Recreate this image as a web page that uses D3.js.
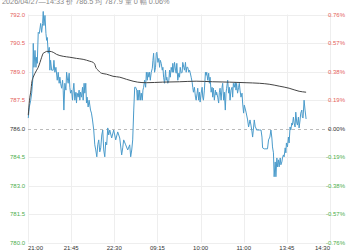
<!DOCTYPE html>
<html><head><meta charset="utf-8">
<script src="https://cdn.jsdelivr.net/npm/d3@7"></script>
<style>
html,body{margin:0;padding:0;background:#fff;overflow:hidden}
svg{display:block;font-family:"Liberation Sans",Arial,sans-serif}
</style></head>
<body>
<svg id="c" width="350" height="250"></svg>
<script>
const titleText = "2026/04/27\u201414:33 价 786.5 均 787.9 量 0 幅 0.06%";
const xTickLabels = ["21:00","21:45","22:30","09:15","10:00","11:00","13:45","14:30"];
const totalMinutes = 345;
const preClose = 786.0;
const yTicks = [780.0,781.5,783.0,784.5,786.0,787.5,789.0,790.5,792.0];
const pctLabels = ["-0.76%","-0.57%","-0.38%","-0.19%","0.00%","0.19%","0.38%","0.57%","0.76%"];

const priceMinute = [0.3,1.5,3.1,4.2,5.4,6.0,6.8,8.0,9.1,9.9,10.6,11.7,12.9,14.5,15.6,16.7,17.4,18.2,19.4,20.5,21.3,22.0,23.1,24.3,25.0,25.8,27.0,28.8,29.6,30.7,31.9,33.4,34.5,35.6,36.4,37.2,38.4,39.5,40.2,41.0,42.1,43.3,44.1,45.2,45.9,47.0,47.8,48.6,49.8,50.9,51.6,52.4,53.5,54.7,55.4,56.1,57.3,58.4,59.2,60.0,61.1,62.3,63.0,64.1,64.9,66.0,66.8,67.5,68.7,69.8,71.4,72.5,73.7,75.1,76.3,77.4,78.6,79.7,80.8,82.0,83.1,84.3,85.4,86.5,87.7,88.8,89.9,91.1,92.2,93.4,95.6,97.9,100.2,102.5,104.8,107.0,108.2,109.3,111.6,113.9,116.2,117.3,118.5,119.6,
120.8,121.9,123.0,124.2,124.9,125.6,126.7,127.5,128.7,129.4,130.6,131.3,132.1,133.2,134.4,135.2,136.3,137.0,138.1,138.9,139.7,140.8,142.0,142.7,143.5,144.6,145.7,146.5,147.2,148.4,149.5,150.3,151.1,152.2,153.4,154.1,154.9,156.0,157.1,157.9,158.6,159.7,160.9,161.7,162.5,163.6,164.8,165.4,166.2,167.4,168.5,169.3,170.0,171.1,172.3,173.1,173.9,175.0,176.1,176.8,178.0,178.8,179.9,180.7,181.4,182.5,183.7,184.5,185.2,186.4,187.5,188.2,189.0,190.1,191.3,192.1,193.2,193.9,195.0,195.8,196.6,197.8,198.9,199.6,200.4,201.5,202.7,203.5,204.2,205.3,206.4,207.2,208.0,209.2,210.3,211.0,211.8,212.9,214.1,214.9,215.5,216.7,217.8,218.6,219.4,220.6,221.7,222.4,223.5,224.3,225.4,226.2,226.9,228.1,229.2,230.0,230.8,231.9,233.1,233.8,234.6,235.7,236.8,237.6,238.3,239.4,240.6,241.4,242.2,243.3,244.5,245.2,246.3,247.1,249.1,250.9,252.0,253.6,254.7,255.9,256.6,257.4,258.5,259.6,260.4,261.1,262.3,264.2,266.2,267.3,268.0,269.9,271.8,273.6,274.8,276.3,277.5,278.6,279.3,280.4,281.2,282.4,283.2,284.3,285.0,286.1,286.9,288.1,288.9,290.0,290.7,291.8,292.6,293.8,294.6,295.2,296.4,297.5,298.3,299.4,300.2,301.4,302.1,303.2,304.0,305.1,305.9,307.1,307.8,308.9,309.7,310.8,311.6,312.8,313.4,314.2,315.4,316.5,317.7];

const priceValue = [786.55,787.13,787.49,787.86,788.54,790.48,789.22,790.11,789.22,789.75,789.43,791.06,791.00,791.53,791.06,791.53,792.16,791.42,791.95,791.00,790.64,790.79,789.96,790.27,789.07,789.59,789.07,789.07,789.59,788.96,789.22,788.54,788.96,788.38,788.70,788.38,788.12,788.54,788.02,786.97,788.38,788.02,788.96,788.54,788.38,788.91,788.17,787.86,788.02,787.49,788.02,788.38,787.49,787.91,787.34,787.86,787.65,788.02,787.49,787.91,787.65,788.17,787.49,788.38,787.86,788.38,787.34,787.65,787.13,787.49,786.97,786.81,786.45,785.92,785.14,784.87,784.51,785.14,785.40,784.77,784.98,785.66,785.92,784.87,784.51,785.29,785.14,786.03,785.66,785.92,785.50,785.92,785.40,785.82,785.50,784.61,784.98,785.40,785.14,784.87,785.14,784.51,784.87,785.40,
786.97,788.17,788.17,788.02,787.49,788.02,787.49,788.02,787.49,787.86,787.49,788.02,788.17,788.54,788.17,788.96,788.54,788.96,788.70,788.96,788.54,788.96,789.17,789.59,789.96,788.96,789.22,789.96,790.01,789.48,789.69,789.22,789.59,789.43,789.07,789.22,788.70,788.38,789.07,788.54,788.70,788.38,788.54,789.07,788.70,789.22,788.96,789.43,788.96,789.48,789.07,788.91,789.43,788.54,788.91,788.70,789.22,788.91,788.96,789.48,789.22,789.07,789.48,788.96,789.22,789.22,788.96,789.07,788.96,788.70,788.44,788.17,787.91,788.17,787.65,787.49,787.86,788.12,787.49,787.91,787.39,787.86,788.17,787.65,787.49,788.02,788.96,788.80,788.96,788.54,788.91,788.38,788.70,787.91,788.17,787.65,788.12,787.49,788.02,787.76,787.91,787.65,787.34,787.91,788.12,787.49,788.17,788.38,787.49,787.91,786.97,787.86,788.12,788.54,787.86,788.17,787.49,788.02,788.17,787.65,788.38,788.17,788.44,788.02,788.38,787.86,788.17,788.38,788.02,787.65,787.86,787.34,786.81,787.23,786.86,786.45,786.08,786.45,786.18,785.82,785.55,785.92,786.45,786.08,786.03,785.92,785.92,785.92,785.92,785.55,784.98,784.93,784.93,784.93,785.40,785.55,785.92,785.50,785.03,784.72,783.46,784.24,783.46,784.45,783.98,784.35,783.98,784.45,784.09,784.24,784.45,784.61,784.51,784.98,784.72,785.24,785.03,785.55,785.24,786.08,785.92,786.29,786.18,786.60,786.29,786.08,786.86,786.29,786.18,786.60,786.03,786.45,786.81,786.97,786.60,786.55,787.49,786.97,786.50];

const avgMinute = [0.3,1.7,3.4,4.2,6.0,8.0,9.9,11.7,13.7,15.6,17.4,19.4,21.3,25.0,28.8,32.7,40.2,47.8,55.4,63.0,70.6,74.4,76.3,77.4,80.0,83.9,89.6,97.1,104.8,112.4,120.0,125.2,135.2,153.7,173.1,192.1,211.0,230.0,249.1,264.2,275.5,286.9,298.3,309.7,317.7];
const avgValue = [786.70,787.49,788.02,788.38,788.70,788.91,789.07,789.22,789.48,789.75,789.96,790.01,790.06,790.06,790.01,789.90,789.80,789.75,789.69,789.64,789.54,789.48,789.38,789.22,789.07,788.91,788.86,788.75,788.70,788.59,788.49,788.44,788.41,788.44,788.46,788.49,788.46,788.44,788.41,788.38,788.33,788.23,788.12,787.96,787.91];

const plotL = 28, plotR = 330, plotT = 14.5, plotB = 242.5;
const svg = d3.select("#c");
const x = d3.scaleLinear().domain([0, totalMinutes]).range([plotL, plotR]);
const y = d3.scaleLinear().domain([780, 792]).range([plotB, plotT]);
const xp = d3.scalePoint().domain(xTickLabels).range([plotL, plotR]);

const colorFor = v => v > preClose ? "#e4615b" : (v < preClose ? "#4cae4c" : "#333");

// horizontal grid
svg.append("g").selectAll("line").data(yTicks.filter(v => v !== preClose)).join("line")
  .attr("x1", plotL).attr("x2", plotR)
  .attr("y1", d => Math.round(y(d)) + 0.5).attr("y2", d => Math.round(y(d)) + 0.5)
  .attr("stroke", "#eeeeee").attr("stroke-width", 1);
// vertical grid
svg.append("g").selectAll("line").data(xTickLabels).join("line")
  .attr("x1", d => Math.round(xp(d)) + 0.5).attr("x2", d => Math.round(xp(d)) + 0.5)
  .attr("y1", plotT).attr("y2", plotB)
  .attr("stroke", "#eeeeee").attr("stroke-width", 1);
// pre-close dashed
svg.append("line").attr("x1", plotL).attr("x2", plotR)
  .attr("y1", Math.round(y(preClose)) + 0.5).attr("y2", Math.round(y(preClose)) + 0.5)
  .attr("stroke", "#bbbbbb").attr("stroke-dasharray", "3,3").attr("stroke-width", 1);

// left labels
svg.append("g").selectAll("text").data(yTicks).join("text")
  .attr("x", 25).attr("y", d => y(d)).attr("dy", "0.35em")
  .attr("text-anchor", "end").attr("font-size", 6)
  .attr("fill", d => colorFor(d)).text(d => d3.format(".1f")(d));
// right labels
svg.append("g").selectAll("text").data(yTicks).join("text")
  .attr("x", 345).attr("y", d => y(d)).attr("dy", "0.35em")
  .attr("text-anchor", "end").attr("font-size", 6)
  .attr("fill", d => colorFor(d)).text((d, i) => pctLabels[i]);
// x labels
svg.append("g").selectAll("text").data(xTickLabels).join("text")
  .attr("x", d => xp(d)).attr("y", 249.5)
  .attr("text-anchor", (d, i) => i === 0 ? "start" : (i === xTickLabels.length - 1 ? "end" : "middle"))
  .attr("font-size", 6).attr("fill", "#333").text(d => d);

// price line
const priceData = priceMinute.map((m, i) => [m, priceValue[i]]);
const avgData = avgMinute.map((m, i) => [m, avgValue[i]]);
const line = d3.line().x(d => x(d[0])).y(d => y(d[1]));
svg.append("path").datum(priceData).attr("d", line)
  .attr("fill", "none").attr("stroke", "#4a9bcb").attr("stroke-width", 1).attr("stroke-linejoin", "round");
svg.append("path").datum(avgData).attr("d", d3.line().curve(d3.curveMonotoneX).x(d => x(d[0])).y(d => y(d[1])))
  .attr("fill", "none").attr("stroke", "#444").attr("stroke-width", 1);

// title
svg.append("text").attr("x", 2).attr("y", 4).attr("font-size", 7.3).attr("fill", "#888").text(titleText);
</script>
</body></html>
